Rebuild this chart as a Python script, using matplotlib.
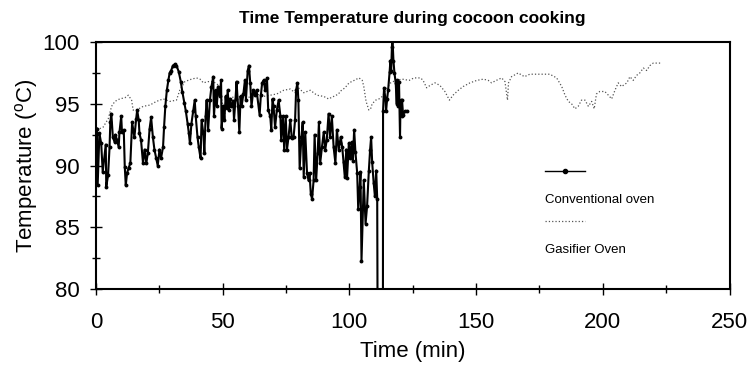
import numpy as np
import matplotlib
matplotlib.use('Agg')
import matplotlib.pyplot as plt
from matplotlib.ticker import MultipleLocator

# === Data ===
# Conventional oven (min, degC); values below 80 are off the chart
conv_time = [
    0.4, 0.7, 1.4, 2.1, 2.7, 3.9, 4.1, 4.8, 5.4, 5.7, 6.1, 6.7, 7.4, 7.7, 8.3, 9.0,
    9.3, 10.0, 10.3, 11.0, 11.4, 11.8, 12.3, 12.9, 13.6, 14.3, 15.2, 15.9, 16.3, 16.9,
    17.2, 17.8, 18.6, 19.2, 19.9, 20.5, 21.2, 21.8, 22.5, 23.1, 23.8, 24.4, 25.1, 25.7,
    26.5, 26.9, 27.4, 28.0, 28.6, 29.1, 29.7, 30.4, 31.1, 31.8, 32.7, 33.5, 34.1, 34.9,
    35.5, 36.2, 36.7, 37.1, 37.7, 38.4, 39.0, 39.4, 40.1, 40.6, 41.3, 41.7, 42.4, 42.8,
    43.3, 43.7, 44.3, 45.0, 45.6, 46.3, 46.6, 47.2, 47.7, 48.2, 48.9, 49.4, 49.6, 50.3,
    50.7, 51.2, 51.6, 52.0, 52.5, 52.9, 53.5, 54.2, 54.5, 55.1, 55.5, 56.1, 56.6, 57.1,
    57.5, 58.2, 58.8, 59.2, 59.9, 60.4, 60.9, 61.4, 62.1, 62.7, 63.4, 64.6, 65.1, 65.6,
    66.2, 66.8, 67.5, 68.0, 68.8, 69.2, 69.7, 70.1, 70.7, 71.4, 72.1, 72.8, 73.1, 73.8,
    74.3, 74.9, 75.4, 76.0, 76.7, 77.3, 78.0, 78.6, 79.0, 79.5, 79.9, 80.4, 81.1, 81.6,
    82.0, 82.6, 83.3, 83.9, 84.3, 84.8, 85.3, 85.9, 86.3, 86.9, 87.5, 88.0, 88.5, 89.2,
    89.9, 90.5, 91.1, 91.8, 92.4, 93.1, 93.8, 94.5, 95.1, 95.8, 96.2, 96.6, 97.2, 97.7,
    98.2, 98.8, 99.1, 99.8, 100.4, 100.9, 101.4, 101.9, 102.4, 103.1, 103.5, 104.1, 104.4,
    104.8, 105.4, 105.7, 106.4, 107.0, 107.7, 108.2, 108.6, 109.0, 109.6, 110.1, 110.6,
    111.0, 111.4, 113.2, 113.3, 113.7, 114.3, 114.5, 114.9, 115.3, 115.9, 116.2, 116.5,
    116.8, 117.0, 117.4, 117.8, 118.3, 118.7, 118.9, 119.3, 119.6, 120.0, 120.2, 120.6,
    120.8, 121.2, 121.9, 122.6,
]
conv_temp = [
    93.0, 88.4, 92.6, 91.8, 89.5, 91.7, 88.3, 89.2, 91.5, 93.5, 94.2, 92.3, 91.9, 92.5, 92.1, 91.5,
    92.7, 94.0, 92.7, 92.9, 89.9, 88.4, 89.4, 89.8, 90.2, 93.5, 92.3, 93.8, 94.5, 93.7,
    92.6, 92.1, 90.2, 91.3, 90.2, 91.0, 93.0, 93.9, 92.3, 91.3, 90.6, 90.0, 91.3, 90.6,
    91.5, 93.1, 94.8, 96.1, 96.9, 97.5, 97.7, 98.1, 98.2, 98.1, 97.6, 96.8, 96.0, 95.1,
    94.4, 93.4, 92.6, 91.8, 93.4, 94.4, 95.3, 94.0, 92.3, 91.5, 90.6, 93.7, 92.6, 91.0,
    94.0, 95.3, 92.9, 95.3, 96.4, 97.2, 94.0, 96.1, 94.8, 96.4, 95.6, 96.9, 93.0, 94.8,
    93.7, 95.6, 94.7, 96.1, 94.5, 95.4, 94.8, 95.2, 93.7, 95.4, 96.8, 94.8, 92.7, 95.6,
    94.8, 95.8, 96.9, 95.3, 97.7, 98.1, 96.7, 94.8, 96.1, 95.7, 96.1, 94.1, 95.7, 96.7,
    96.9, 96.1, 97.1, 94.5, 94.0, 92.9, 95.4, 94.8, 93.1, 94.5, 95.3, 94.0, 92.1, 94.0,
    91.3, 94.0, 91.3, 92.3, 93.7, 92.2, 92.3, 93.7, 96.1, 96.7, 95.3, 89.8, 92.3, 93.5,
    89.1, 92.7, 89.4, 88.8, 89.4, 87.7, 87.3, 88.8, 92.5, 88.8, 91.0, 93.5, 90.2, 91.5,
    92.7, 91.3, 92.1, 94.2, 92.3, 94.0, 91.5, 90.2, 92.9, 91.3, 91.8, 92.3, 91.5, 90.3,
    89.1, 91.3, 89.0, 91.8, 90.6, 91.9, 90.4, 92.9, 91.1, 89.4, 86.5, 88.3, 89.5,
    82.3, 86.7, 88.8, 85.3, 86.7, 89.6, 91.3, 92.3, 90.3, 88.6, 87.5, 89.6,
    87.3, 60.0, 60.0, 94.4, 96.3, 95.3, 94.4, 95.4, 96.1, 97.6, 98.5, 97.7,
    99.6, 100.4, 98.5, 97.5, 96.7, 95.0, 96.9, 94.8, 96.8, 92.3, 95.3, 94.0,
    95.3, 94.1, 94.4, 94.4,
]

# Gasifier oven (min, degC)
gas_time = [
    0.3, 2.8, 4.9, 6.2, 7.5, 9.4, 11.5, 12.8, 14.1, 14.7, 16.0, 18.7, 21.3, 23.9, 26.6,
    29.2, 31.8, 33.1, 35.1, 37.7, 39.7, 41.1, 42.4, 44.3, 46.3, 48.5, 50.0, 50.6, 51.3,
    53.0, 56.0, 60.0, 63.5, 66.0, 68.8, 71.4, 74.1, 76.7, 78.6, 79.9, 82.0, 84.6, 87.2,
    89.9, 91.8, 93.8, 95.8, 96.3, 98.3, 99.9, 101.9, 103.8, 105.1, 105.7, 106.6, 107.7,
    108.4, 109.0, 110.4, 111.7, 113.0, 114.3, 116.3, 118.3, 120.9, 123.6, 125.5, 128.1,
    129.1, 130.5, 131.9, 133.8, 135.7, 137.7, 139.5, 140.9, 143.0, 144.9, 147.6, 150.3,
    152.9, 154.8, 156.1, 158.0, 160.1, 161.4, 162.4, 162.8, 164.0, 166.6, 169.1, 171.2,
    173.8, 176.4, 179.1, 181.8, 183.8, 185.1, 186.4, 187.7, 189.0, 190.3, 191.6, 193.0,
    194.3, 195.6, 196.6, 197.5, 198.8, 200.8, 202.2, 203.5, 204.8, 206.1, 207.4, 209.5,
    210.7, 212.0, 213.3, 214.6, 216.0, 217.3, 218.6, 219.9, 221.2, 222.9,
]
gas_temp = [
    92.9, 93.1, 93.8, 94.8, 95.2, 95.4, 95.5, 95.7, 95.3, 94.5, 94.5, 94.8, 94.9, 95.2, 95.4,
    95.2, 95.3, 96.1, 96.8, 97.0, 97.1, 97.0, 96.7, 96.8, 96.8, 96.5, 95.0, 93.7, 95.0,
    95.5, 95.6, 95.5, 95.8, 95.6, 95.7, 95.8, 96.1, 96.2, 95.9, 96.3, 95.9, 96.1, 95.7,
    95.6, 95.4, 95.6, 95.8, 96.0, 96.3, 96.7, 96.9, 97.1, 96.9, 96.4, 95.2, 94.5,
    94.6, 95.0, 95.3, 95.4, 95.6, 96.1, 96.7, 96.9, 97.0, 96.9, 97.1, 97.1,
    96.9, 96.3, 96.5, 96.7, 96.5, 96.0, 95.3, 95.7, 96.1, 96.4, 96.7, 96.9,
    97.0, 96.9, 96.7, 96.9, 97.1, 96.8, 95.3, 96.7, 97.2, 97.5, 97.2, 97.4,
    97.4, 97.4, 97.4, 97.1, 96.4, 95.7, 95.2, 95.0, 94.6, 94.8, 95.3, 95.3,
    94.8, 95.2, 94.6, 95.8, 96.0, 96.0, 95.7, 95.4, 96.1, 96.7, 96.4, 96.7,
    97.2, 96.9, 97.3, 97.5, 97.9, 97.7, 98.1, 98.3, 98.3, 98.3,
]

plt.rcParams['font.family'] = ['Liberation Sans', 'DejaVu Sans']

fig = plt.figure(figsize=(7.49, 3.66), dpi=100)
ax = fig.add_axes([0.128, 0.21, 0.846, 0.675])

ax.plot(gas_time, gas_temp, color='#555555', linestyle=':', linewidth=0.9)
ax.plot(conv_time, conv_temp, color='black', linewidth=1.5,
        marker='o', markersize=2.8, markerfacecolor='black', markeredgewidth=0)

ax.set_xlim(0, 250)
ax.set_ylim(80, 100)
ax.xaxis.set_major_locator(MultipleLocator(50))
ax.xaxis.set_minor_locator(MultipleLocator(25))
ax.yaxis.set_major_locator(MultipleLocator(5))
ax.yaxis.set_minor_locator(MultipleLocator(2.5))
ax.tick_params(which='major', direction='inout', length=9, width=1, labelsize=16)
ax.tick_params(which='minor', direction='inout', length=6, width=1)
ax.tick_params(axis='x', which='major', pad=12)
ax.tick_params(axis='y', which='major', pad=7)
for side in ['left', 'bottom', 'top', 'right']:
    ax.spines[side].set_linewidth(1.5)

ax.set_xlabel('Time (min)', fontsize=16, labelpad=6)
ax.set_ylabel(r'Temperature ($\mathregular{^{o}}$C)', fontsize=16, labelpad=2)
ax.set_title('Time Temperature during cocoon cooking', fontsize=12.5,
             fontweight='bold', pad=14)

# legend as in the original: sample line, then its label underneath
ax.plot([177.2, 193.0], [89.6, 89.6], color='black', linewidth=1.0)
ax.plot([185.0], [89.6], 'o', color='black', markersize=3)
ax.plot([177.2, 193.0], [85.5, 85.5], color='#555555', linewidth=0.9, linestyle=':')
ax.text(177.2, 87.2, 'Conventional oven', fontsize=9.5, va='center')
ax.text(177.2, 83.2, 'Gasifier Oven', fontsize=9.5, va='center')

fig.savefig('out.png', dpi=100)
